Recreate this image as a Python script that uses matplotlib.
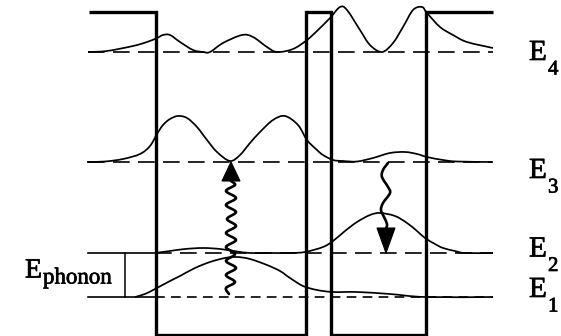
import numpy as np
import matplotlib
matplotlib.use("Agg")
import matplotlib.pyplot as plt
import matplotlib.patheffects as pe
from matplotlib.path import Path
from matplotlib.patches import PathPatch, Polygon

plt.rcParams["lines.scale_dashes"] = False
plt.rcParams["font.family"] = "serif"
plt.rcParams["font.serif"] = ["Liberation Serif", "STIXGeneral", "DejaVu Serif"]

# Conduction-band edge: coupled double quantum well (position, energy drawn top-down)
profile_x = [89, 156, 156, 306, 306, 331, 331, 426, 426, 493]
profile_y = [12, 12, 335, 335, 12, 12, 335, 335, 12, 12]

# Subband levels
level_labels = ["1", "2", "3", "4"]
level_y = [297, 253, 162, 52]
level_left = [155, 155, 88, 88]       # where the dashed part starts
level_solid_left = [88, 88, None, None]  # solid lead-in on the left (phonon bracket)
level_x_end = 493

# Wavefunction envelopes (|psi|^2 drawn on top of each level)
psi4_x = [88, 107, 133, 147, 157, 163, 170, 180, 193, 203, 210, 223, 242, 253, 267, 277,
          293, 307, 318, 330, 340, 347, 360, 370, 382, 393, 403, 413, 422, 427, 440, 453, 467, 493]
psi4_y = [52, 51, 46, 42, 38, 35, 35, 42, 50, 52, 52, 43, 35, 37, 47, 52,
          49, 40, 30, 18, 7, 10, 30, 45, 52, 43, 27, 10, 7, 13, 27, 35, 42, 48]

psi3_x = [87, 105, 123, 140, 150, 157, 163, 170, 178, 187, 197, 207, 217, 230, 240, 250, 260,
          273, 285, 298, 307, 317, 323, 333, 343, 357, 373, 390, 405, 417, 427, 443, 457, 492]
psi3_y = [162, 161.5, 159, 154, 146, 134, 125, 119, 116, 118, 127, 140, 152, 161, 155, 143, 132,
          120, 116, 125, 140, 150, 155, 160, 161, 161.5, 158, 153, 152, 154, 157, 160, 161.5, 162]

psi2_x = [155, 170, 185, 203, 220, 237, 250, 270, 290, 305, 323, 333, 345, 357, 370, 380,
          395, 407, 417, 425, 435, 443, 455, 465, 493]
psi2_y = [253, 251, 249, 248, 249, 251.5, 253, 253, 253, 252, 247, 241, 231, 222, 215, 213,
          216, 223, 231, 238, 244, 248, 251, 253, 253]

psi1_x = [135, 145, 155, 170, 180, 195, 210, 225, 237, 250, 267, 280, 290, 303, 317, 333,
          357, 390, 425, 493]
psi1_y = [297, 294, 289, 281, 276, 268, 262, 258, 257, 259, 265, 271, 278, 286, 290, 292,
          292, 294, 297, 297]

# Phonon-assisted absorption E1 -> E3 (wavy up arrow)
up_x = [229, 226, 235, 226, 236, 226, 235, 226, 236, 226, 236, 227, 236, 226, 236, 226, 235, 231]
up_y = [294, 288, 282, 275, 268, 261, 254, 247, 240, 233, 226, 219, 212, 205, 198, 191, 185, 181]
up_head_x = [222, 240, 231]
up_head_y = [181, 181, 162]

# Emission E3 -> E2 (wavy down arrow)
down_x = [388, 383, 382, 388, 390, 383, 381, 384, 387, 386]
down_y = [163, 170, 177, 187, 193, 203, 210, 217, 224, 229]
down_head_x = [377, 395, 386]
down_head_y = [228, 228, 253]

# Phonon energy bracket
phonon_x = 125
phonon_span = [253, 297]


def smooth_path(xs, ys):
    """Cubic Bezier path through the given points (Catmull-Rom tangents)."""
    p = np.column_stack([xs, ys]).astype(float)
    ext = np.vstack([p[0], p, p[-1]])
    verts = [p[0]]
    codes = [Path.MOVETO]
    for i in range(1, len(ext) - 2):
        p0, p1, p2, p3 = ext[i - 1], ext[i], ext[i + 1], ext[i + 2]
        c1 = p1 + (p2 - p0) / 6.0
        c2 = p2 - (p3 - p1) / 6.0
        verts += [c1, c2, p2]
        codes += [Path.CURVE4] * 3
    return Path(verts, codes)


fig = plt.figure(figsize=(5.61, 3.36), dpi=100)
ax = fig.add_axes([0, 0, 1, 1])
ax.set_xlim(0, 561)
ax.set_ylim(336, 0)
ax.axis("off")

# energy levels
for lab, y, x0, xs in zip(level_labels, level_y, level_left, level_solid_left):
    dash = (0, (7, 4.5)) if lab == "1" else (0, (12, 6))
    ax.plot([x0, level_x_end], [y, y], color="black", lw=1.2, ls=dash,
            solid_capstyle="butt", dash_capstyle="butt", zorder=2)
    if xs is not None:
        ax.plot([xs, x0], [y, y], color="black", lw=1.2, zorder=2)

# potential profile
ax.plot(profile_x, profile_y, color="black", lw=2.4, solid_joinstyle="miter",
        solid_capstyle="butt", zorder=4)

# wavefunctions
for xs, ys in [(psi4_x, psi4_y), (psi3_x, psi3_y), (psi2_x, psi2_y), (psi1_x, psi1_y)]:
    ax.add_patch(PathPatch(smooth_path(xs, ys), facecolor="none", edgecolor="black",
                           lw=1.25, zorder=3))

# wavy transitions
for xs, ys, hx, hy in [(up_x, up_y, up_head_x, up_head_y),
                       (down_x, down_y, down_head_x, down_head_y)]:
    ax.add_patch(PathPatch(smooth_path(xs, ys), facecolor="none", edgecolor="black",
                           lw=1.9, capstyle="round", zorder=5))
    ax.add_patch(Polygon(np.column_stack([hx, hy]), closed=True, facecolor="black",
                         edgecolor="black", lw=0.8, zorder=5))

# text with a slightly heavier stroke
heavy = [pe.withStroke(linewidth=0.5, foreground="black")]

# phonon bracket and label
ax.plot([phonon_x, phonon_x], phonon_span, color="black", lw=1.1, zorder=2)
ax.text(25, 277.5, "E", fontsize=20, ha="left", va="baseline", path_effects=heavy)
ax.text(43, 283.5, "phonon", fontsize=16.5, ha="left", va="baseline", path_effects=heavy)

# level labels
label_base = [297, 256.5, 178, 60]
for lab, yb in zip(level_labels, label_base):
    ax.text(529, yb, "E", fontsize=21, ha="left", va="baseline", path_effects=heavy)
    ax.text(548, yb + 14.5, lab, fontsize=15, ha="left", va="baseline", path_effects=heavy)

fig.savefig("out.png", dpi=100)
